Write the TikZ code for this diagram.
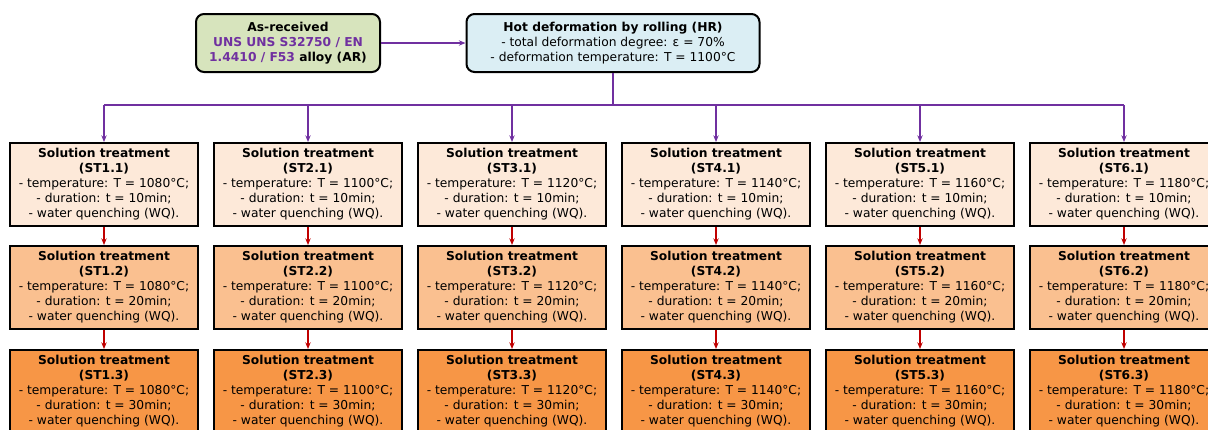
\documentclass[tikz,border=0pt]{standalone}
\usepackage{fontspec}
\setmainfont{DejaVu Sans}
\usetikzlibrary{positioning,arrows.meta}

\definecolor{alloypurple}{HTML}{7030A0}
\definecolor{argreen}{HTML}{D7E4BD}
\definecolor{hrblue}{HTML}{DBEEF4}
\definecolor{stlight}{HTML}{FDE9D9}
\definecolor{stmid}{HTML}{FAC090}
\definecolor{stdark}{HTML}{F79646}
\definecolor{wqred}{HTML}{C00000}

\tikzset{
  box/.style={draw, line width=1.5pt, align=center, inner sep=2pt,
    font=\fontsize{9.2}{11.25}\selectfont},
  topbox/.style={box, rounded corners=6pt, minimum height=43.5pt},
  stbox/.style={box, minimum width=141pt, minimum height=62.25pt},
  feed/.style={draw=alloypurple, line width=1.3pt},
  feedarrow/.style={feed, -{Stealth[length=5pt,width=4pt]}},
  steparrow/.style={draw=wqred, line width=1.1pt, -{Stealth[length=5pt,width=4pt]}}
}

\begin{document}
\begin{tikzpicture}[x=0.75pt,y=-0.75pt]
  \useasboundingbox (0,0) rectangle (1208,429);

  \node[topbox, fill=argreen, minimum width=138pt] (ar) at (288,43)
    {\textbf{As-received}\\
     \textbf{\color{alloypurple}UNS UNS S32750 / EN}\\
     \textbf{{\color{alloypurple}1.4410 / F53} alloy (AR)}};
  \node[topbox, fill=hrblue, minimum width=219.75pt] (hr) at (613,43)
    {\textbf{Hot deformation by rolling (HR)}\\
     - total deformation degree: ε = 70\%\\
     - deformation temperature: T = 1100°C};

  \draw[feedarrow] (ar) -- (hr);

  % solution treatments, one column per temperature
  \foreach \i/\t in {1/1080,2/1100,3/1120,4/1140,5/1160,6/1180} {
    \node[stbox, fill=stlight] (st\i-1) at ({104+204*(\i-1)},184.5)
      {\textbf{Solution treatment}\\\textbf{(ST\i.1)}\\
       - temperature: T = \t°C;\\- duration: t = 10min;\\- water quenching (WQ).};
    \node[stbox, fill=stmid] (st\i-2) at ({104+204*(\i-1)},287.5)
      {\textbf{Solution treatment}\\\textbf{(ST\i.2)}\\
       - temperature: T = \t°C;\\- duration: t = 20min;\\- water quenching (WQ).};
    \node[stbox, fill=stdark] (st\i-3) at ({104+204*(\i-1)},391.5)
      {\textbf{Solution treatment}\\\textbf{(ST\i.3)}\\
       - temperature: T = \t°C;\\- duration: t = 30min;\\- water quenching (WQ).};
    \draw[steparrow] (st\i-1) -- (st\i-2);
    \draw[steparrow] (st\i-2) -- (st\i-3);
  }

  % distribution bus
  \coordinate (bus) at (613,105);
  \draw[feed] (hr.south) -- (bus);
  \draw[feed] (bus -| st1-1.north) -- (bus -| st6-1.north);
  \foreach \i in {1,...,6}
    \draw[feedarrow] (bus -| st\i-1.north) -- (st\i-1.north);
\end{tikzpicture}
\end{document}
